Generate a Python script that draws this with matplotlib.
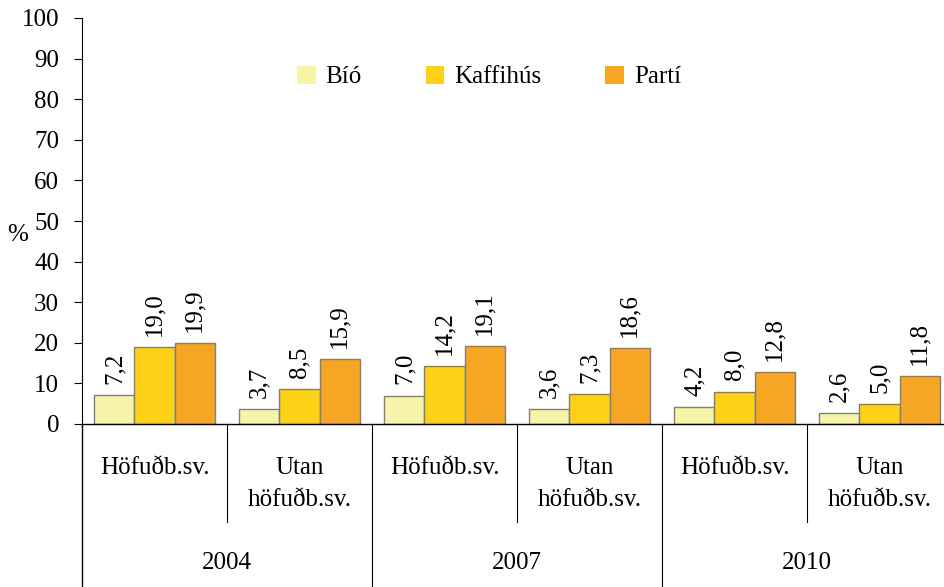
import matplotlib.pyplot as plt
import matplotlib.transforms as mtransforms
from matplotlib.patches import Patch
import numpy as np

plt.rcParams["font.family"] = ["Liberation Serif", "DejaVu Serif"]

years = ["2004", "2007", "2010"]
regions = ["Höfuðb.sv.", "Utan\nhöfuðb.sv."]
series = ["Bíó", "Kaffihús", "Partí"]
bio = [7.2, 3.7, 7.0, 3.6, 4.2, 2.6]
kaffihus = [19.0, 8.5, 14.2, 7.3, 8.0, 5.0]
parti = [19.9, 15.9, 19.1, 18.6, 12.8, 11.8]
colors = ["#F7F4A9", "#FCD116", "#F6A623"]

fig = plt.figure(figsize=(9.45, 5.87), dpi=100)
ax = fig.add_axes([82 / 945, 163 / 587, 870 / 945, 406 / 587])

x = np.arange(len(bio))
width = 0.276
for i, vals in enumerate([bio, kaffihus, parti]):
    pos = x + (i - 1) * width
    ax.bar(pos, vals, width, color=colors[i], edgecolor="#7f7f7f",
           linewidth=1.0, zorder=2)
    for px, v in zip(pos, vals):
        ax.annotate(f"{v:.1f}".replace(".", ","), (px, v), xytext=(0, 8),
                    textcoords="offset points", rotation=90, ha="center",
                    va="bottom", fontsize=18)

ax.set_xlim(-0.5, len(bio) - 0.5)
ax.set_ylim(0, 100)
ax.set_yticks(range(0, 101, 10))
ax.tick_params(axis="y", labelsize=18, length=5.5, direction="out", pad=11)
ax.set_xticks([])
for s in ["top", "right", "bottom"]:
    ax.spines[s].set_visible(False)
ax.axhline(0, color="black", linewidth=1.0, zorder=3, clip_on=False)
ax.set_ylabel("%", rotation=0, fontsize=18, va="center")
ax.yaxis.set_label_coords(-0.074, 0.465)

# category axis below the plot
trans = mtransforms.blended_transform_factory(ax.transData, ax.transAxes)
ax.spines["left"].set_bounds(0, 100)
ax.plot([-0.5, -0.5], [0, -0.41], color="black", lw=1.0, transform=trans, clip_on=False)
for k in range(len(bio)):
    ax.text(k, -0.082, regions[k % 2], transform=trans, ha="center", va="top",
            fontsize=18, linespacing=1.55)
    ymin = -0.242 if k % 2 == 0 else -0.41
    ax.plot([k + 0.5, k + 0.5], [0, ymin], color="black", lw=0.8,
            transform=trans, clip_on=False)
for j, yr in enumerate(years):
    ax.text(2 * j + 0.5, -0.342, yr, transform=trans, ha="center", va="center",
            fontsize=18)

handles = [Patch(facecolor=c, edgecolor="none") for c in colors]
ax.legend(handles, series, loc="center", bbox_to_anchor=(489 / 945, 1 - 77 / 587),
          bbox_transform=fig.transFigure, ncol=3, frameon=False, fontsize=18,
          handlelength=0.75, handleheight=0.75, columnspacing=2.55, handletextpad=0.4)

fig.savefig("out.png", dpi=100)
